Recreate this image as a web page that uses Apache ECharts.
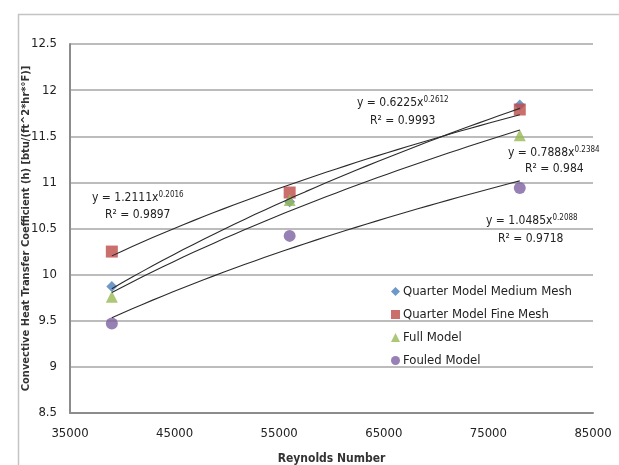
<!DOCTYPE html>
<html>
<head>
<meta charset="utf-8">
<script src="https://cdn.jsdelivr.net/npm/echarts@6/dist/echarts.min.js"></script>
<style>
html,body{margin:0;padding:0;background:#fff;overflow:hidden;}
#chart{width:619px;height:465px;}
</style>
</head>
<body>
<div id="chart"></div>
<script>
// ---- data ----
var seriesNames = ['Quarter Model Medium Mesh', 'Quarter Model Fine Mesh', 'Full Model', 'Fouled Model'];
var reynolds = [39000, 56000, 78000];
var mediumMesh = [9.87, 10.79, 11.84];
var fineMesh = [10.25, 10.89, 11.79];
var fullModel = [9.76, 10.81, 11.51];
var fouledModel = [9.47, 10.42, 10.94];
// power trendline coefficients shown on the chart: y = a * x^b
var trendA = [0.6225, 1.2111, 0.7888, 1.0485];
var trendB = [0.2612, 0.2016, 0.2384, 0.2088];
var trendR2 = ['0.9993', '0.9897', '0.984', '0.9718'];
var xTicks = [35000, 45000, 55000, 65000, 75000, 85000];
var yTicks = [8.5, 9, 9.5, 10, 10.5, 11, 11.5, 12, 12.5];

var FONT = '"Liberation Sans Narrow", "DejaVu Sans Condensed", sans-serif';
var colors = ['#4a7ebb', '#be4b48', '#98b954', '#7d60a0'];
var symbols = ['diamond', 'rect', 'triangle', 'circle'];
var symbolSizes = [11, 12, 12, 12];
var values = [mediumMesh, fineMesh, fullModel, fouledModel];

var chart = echarts.init(document.getElementById('chart'), null, { width: 619, height: 465 });

var series = [];
values.forEach(function (vals, i) {
  series.push({
    name: seriesNames[i],
    type: 'scatter',
    symbol: symbols[i],
    symbolSize: symbolSizes[i],
    itemStyle: { color: colors[i] },
    data: reynolds.map(function (x, k) { return [x, vals[k]]; }),
    z: 2
  });
});
// trendlines from the displayed fit equations, across the data range
trendA.forEach(function (a, i) {
  var pts = [];
  var x0 = reynolds[0], x1 = reynolds[reynolds.length - 1];
  var n = 40;
  for (var k = 0; k <= n; k++) {
    var x = x0 + (x1 - x0) * k / n;
    pts.push([x, a * Math.pow(x, trendB[i])]);
  }
  series.push({
    type: 'line',
    data: pts,
    showSymbol: false,
    symbol: 'none',
    smooth: false,
    silent: true,
    lineStyle: { color: '#2b2b2b', width: 1.1 },
    z: 3
  });
});

function eqText(a, b, r2, left, yc, rLeft, rY) {
  return [
    {
      type: 'text', left: left, top: yc - 7,
      style: {
        text: '{m|y = ' + a + 'x}{s|' + b + '}',
        rich: {
          m: { fontFamily: FONT, fontSize: 12, lineHeight: 13, verticalAlign: 'bottom', fill: '#222' },
          s: { fontFamily: FONT, fontSize: 8, lineHeight: 13, verticalAlign: 'top', fill: '#222' }
        }
      }
    },
    {
      type: 'text', left: rLeft, top: rY - 7,
      style: { text: 'R\u00b2 = ' + r2, fontFamily: FONT, fontSize: 12, fill: '#222' }
    }
  ];
}

var graphics = [
  { type: 'rect', left: 16, top: 12, shape: { width: 602, height: 460 }, style: { fill: 'none', stroke: '#c4c4c4', lineWidth: 1.5 }, silent: true }
];
graphics = graphics
  .concat(eqText(trendA[1], trendB[1], trendR2[1], 92, 198, 105, 216))
  .concat(eqText(trendA[0], trendB[0], trendR2[0], 357, 103, 370, 122))
  .concat(eqText(trendA[2], trendB[2], trendR2[2], 508, 153, 525, 170))
  .concat(eqText(trendA[3], trendB[3], trendR2[3], 486, 221, 498, 240));

chart.setOption({
  animation: false,
  backgroundColor: '#fff',
  textStyle: { fontFamily: FONT },
  grid: { left: 70, right: 26, top: 44, bottom: 52, containLabel: false, outerBoundsMode: 'none' },
  legend: {
    data: seriesNames.map(function (n, i) { return { name: n, icon: symbols[i] }; }),
    orient: 'vertical',
    left: 386,
    top: 280,
    itemWidth: 9,
    itemHeight: 9,
    itemGap: 10,
    textStyle: { fontFamily: FONT, fontSize: 13, color: '#222', padding: [0, 0, 0, -2] },
    selectedMode: false
  },
  xAxis: {
    type: 'value',
    min: xTicks[0],
    max: xTicks[xTicks.length - 1],
    interval: 10000,
    name: 'Reynolds Number',
    nameLocation: 'middle',
    nameGap: 40,
    nameMoveOverlap: false,
    nameTextStyle: { fontFamily: FONT, fontSize: 12, fontWeight: 'bold', color: '#333' },
    axisLine: { show: true, lineStyle: { color: '#8c8c8c', width: 2 } },
    axisTick: { show: false },
    axisLabel: { fontFamily: FONT, fontSize: 13, color: '#222', margin: 14, formatter: function (v) { return String(v); } },
    splitLine: { show: false }
  },
  yAxis: {
    type: 'value',
    min: yTicks[0],
    max: yTicks[yTicks.length - 1],
    interval: 0.5,
    name: 'Convective Heat Transfer Coefficient (h) [btu/(ft^2*hr*\u00b0F)]',
    nameLocation: 'middle',
    nameGap: 38,
    nameMoveOverlap: false,
    nameTextStyle: { fontFamily: FONT, fontSize: 11, fontWeight: 'bold', color: '#333' },
    axisLine: { show: true, lineStyle: { color: '#8c8c8c', width: 2 } },
    axisTick: { show: false },
    axisLabel: { fontFamily: FONT, fontSize: 13, color: '#222', margin: 13, formatter: function (v) { return String(v); } },
    splitLine: { show: true, lineStyle: { color: '#a6a6a6', width: 1.5 } }
  },
  series: series,
  graphic: graphics
});
</script>
</body>
</html>
